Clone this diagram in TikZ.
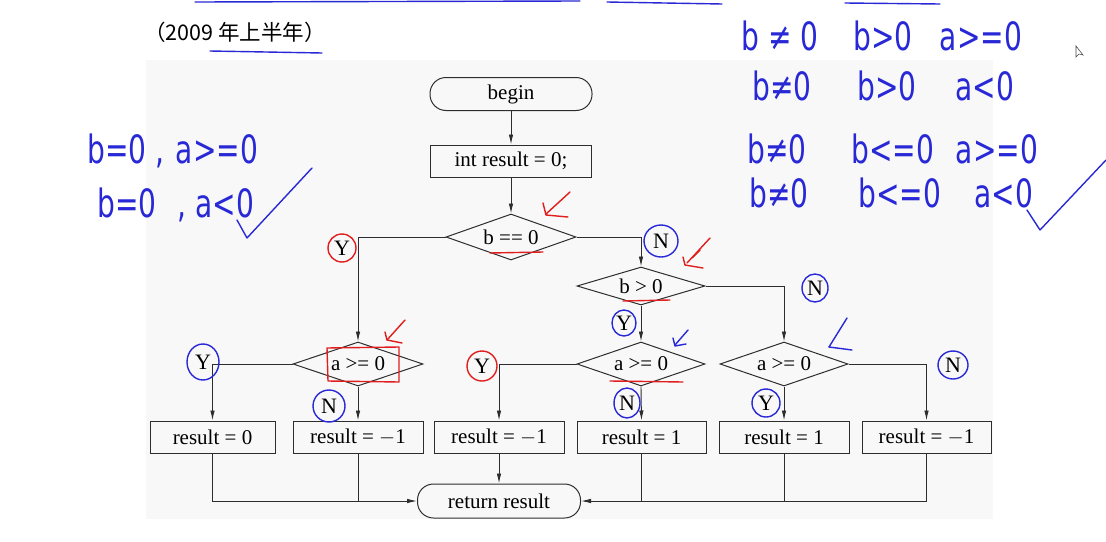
\documentclass[tikz,border=0pt]{standalone}
\usepackage{fontspec}
\setmainfont{Liberation Serif}
\newfontfamily\cjk{Noto Sans CJK SC}
\newfontfamily\hand{DejaVu Sans}
\usetikzlibrary{shapes.geometric,arrows.meta}
\definecolor{inkblue}{RGB}{40,40,215}
\definecolor{inkred}{RGB}{225,30,30}
\definecolor{panel}{RGB}{248,248,248}
\definecolor{fc}{RGB}{45,45,45}
\newcommand{\hw}[1]{\scalebox{0.72}[1]{#1}}
\tikzset{
  fctext/.style={font=\fontsize{21}{24}\selectfont, text=black},
  term/.style={draw=fc, line width=1pt, rounded corners=16pt, fctext, inner sep=0pt},
  procbox/.style={draw=fc, line width=1pt, fctext, inner sep=0pt, minimum height=32pt},
  decide/.style={draw=fc, line width=1pt, diamond, fctext, inner sep=0pt},
  flow/.style={draw=fc, line width=0.9pt, -{Latex[length=10pt,width=4.5pt]}},
  plainflow/.style={draw=fc, line width=0.9pt},
  yn/.style={font=\fontsize{22}{24}\selectfont, inner sep=0pt},
  blueink/.style={draw=inkblue, line width=1.4pt, line cap=round, line join=round},
  redink/.style={draw=inkred, line width=1.4pt, line cap=round, line join=round},
  handtext/.style={text=inkblue, font=\hand\fontsize{39}{42}\selectfont, inner sep=0pt, anchor=base},
}
\begin{document}
\begin{tikzpicture}[x=1pt, y=-1pt]
\useasboundingbox (0,0) rectangle (1106,541);
\fill[white] (0,0) rectangle (1106,541);
\fill[panel] (146,60) rectangle (993,519);

% top strokes
\draw[blueink] (195,2) -- (580,1);
\draw[blueink] (607,2) -- (722,4);
\draw[blueink] (845,3) -- (940,4);

% title
\node[font=\cjk\fontsize{21.5}{24}\selectfont, inner sep=0pt] (title) at (235,32) {（2009 年上半年）};
\draw[blueink] (210,51) -- (322,53);

% flowchart nodes
\node[term, minimum width=162pt, minimum height=33pt] (begin) at (511,94) {begin};
\node[procbox, minimum width=161pt] (init) at (511,161) {int result = 0;};
\node[decide, aspect=2.83, minimum width=130pt, minimum height=46pt] (d1) at (511,237) {b == 0};
\node[decide, aspect=3.37, minimum width=128pt, minimum height=38pt] (d2) at (641,286) {b > 0};
\node[decide, aspect=2.95, minimum width=130pt, minimum height=44pt] (d3) at (358,364) {a >= 0};
\node[decide, aspect=2.9, minimum width=128pt, minimum height=44pt] (d4) at (641,364) {a >= 0};
\node[decide, aspect=2.9, minimum width=128pt, minimum height=44pt] (d5) at (784,364) {a >= 0};
\node[procbox, minimum width=125pt] (r1) at (212.5,437) {result = 0};
\node[procbox, minimum width=130pt] (r2) at (358,437) {result = $-$1};
\node[procbox, minimum width=130pt] (r3) at (499,437) {result = $-$1};
\node[procbox, minimum width=129pt] (r4) at (641.5,437) {result = 1};
\node[procbox, minimum width=130pt] (r5) at (784,437) {result = 1};
\node[procbox, minimum width=129pt] (r6) at (926.5,437) {result = $-$1};
\node[term, minimum width=163pt, minimum height=34pt] (ret) at (499,501) {return result};

% connectors
\draw[flow] (begin) -- (init);
\draw[flow] (init) -- (d1);
\draw[flow] (d1.west) -| (d3.north);
\draw[flow] (d1.east) -| (d2.north);
\draw[flow] (d2.east) -| (d5.north);
\draw[flow] (d2.south) -- (d4.north);
\draw[flow] (d3.west) -| (r1.north);
\draw[flow] (d3.south) -- (r2.north);
\draw[flow] (d4.west) -| (r3.north);
\draw[flow] (d4.south) -- (r4.north);
\draw[flow] (d5.south) -- (r5.north);
\draw[flow] (d5.east) -| (r6.north);
\draw[flow] (r1.south) |- (ret.west);
\draw[plainflow] (r2.south) -- (r2.south |- ret.west);
\draw[flow] (r3.south) -- (ret.north);
\draw[flow] (r6.south) |- (ret.east);
\draw[plainflow] (r4.south) -- (r4.south |- ret.east);
\draw[plainflow] (r5.south) -- (r5.south |- ret.east);

% Y / N labels
\node[yn] (y1) at (342,248) {Y};
\node[yn] (n1) at (661,241) {N};
\node[yn] (n2) at (815,288) {N};
\node[yn] (y2) at (624,323) {Y};
\node[yn] (y3) at (203,362) {Y};
\node[yn] (n3) at (329,406) {N};
\node[yn] (y4) at (482,366) {Y};
\node[yn] (n4) at (627,403) {N};
\node[yn] (y5) at (766,403) {Y};
\node[yn] (n5) at (953,365) {N};

% circles around labels
\draw[redink] (y1) ellipse [x radius=14pt, y radius=14pt];
\draw[blueink] (n1) ellipse [x radius=17pt, y radius=16pt];
\draw[blueink] (n2) ellipse [x radius=13pt, y radius=14pt];
\draw[blueink] (y2) ellipse [x radius=12pt, y radius=13pt];
\draw[blueink] (y3) ellipse [x radius=16pt, y radius=18pt];
\draw[blueink] (n3) ellipse [x radius=16pt, y radius=16pt];
\draw[redink] (y4) ellipse [x radius=15pt, y radius=15pt];
\draw[blueink] (n4) ellipse [x radius=13pt, y radius=15pt];
\draw[blueink] (y5) ellipse [x radius=14pt, y radius=14pt];
\draw[blueink] (n5) ellipse [x radius=15pt, y radius=14pt];

% red / blue marks
\draw[redink] (570,192) -- (546,214);
\draw[redink] (543,203) -- (546,215) -- (568,217);
\draw[redink] (490,253) -- (543,252);
\draw[redink] (710,238) -- (687,263);
\draw[redink] (700,250) -- (692,258);
\draw[redink] (683,257) -- (685,265) -- (703,268);
\draw[redink] (623,301) -- (670,300);
\draw[redink] (405,320) -- (387,340);
\draw[redink] (385,332) -- (387,340) -- (402,343);
\draw[redink] (327,348) -- (399,347) -- (399,382) -- (328,381) -- cycle;
\draw[redink] (610,381) -- (683,382);
\draw[blueink] (688,330) -- (675,345);
\draw[blueink] (673,338) -- (675,346) -- (686,344);
\draw[blueink] (847,318) -- (829,347);
\draw[blueink] (829,347) -- (852,350);

% handwritten notes, right
\node[handtext] (ra1) at (780,50) {\hw{b ≠ 0}};
\node[handtext] (rb1) at (883,50) {\hw{b>0}};
\node[handtext] (rc1) at (981,50) {\hw{a>=0}};
\node[handtext] (ra2) at (782,100) {\hw{b≠0}};
\node[handtext] (rb2) at (887,100) {\hw{b>0}};
\node[handtext] (rc2) at (985,100) {\hw{a<0}};
\node[handtext] (ra3) at (777,163) {\hw{b≠0}};
\node[handtext] (rb3) at (893,163) {\hw{b<=0}};
\node[handtext] (rc3) at (997,163) {\hw{a>=0}};
\node[handtext] (ra4) at (779,207) {\hw{b≠0}};
\node[handtext] (rb4) at (900,207) {\hw{b<=0}};
\node[handtext] (rc4) at (1004,207) {\hw{a<0}};
\draw[blueink] (1027,210) -- (1040,230) -- (1106,160);

% handwritten notes, left
\node[handtext] (la1) at (117,163) {\hw{b=0}};
\node[handtext] (lc1) at (160,163) {\hw{,}};
\node[handtext] (lb1) at (217,163) {\hw{a>=0}};
\node[handtext] (la2) at (127,217) {\hw{b=0}};
\node[handtext] (lc2) at (182,217) {\hw{,}};
\node[handtext] (lb2) at (225,217) {\hw{a<0}};
\draw[blueink] (237,220) -- (247,238) -- (312,168);

% mouse cursor
\filldraw[draw=black!70, fill=white, line width=0.6pt] (1076,46) -- (1076,57) -- (1079,54) -- (1083,55) -- cycle;
\end{tikzpicture}
\end{document}
